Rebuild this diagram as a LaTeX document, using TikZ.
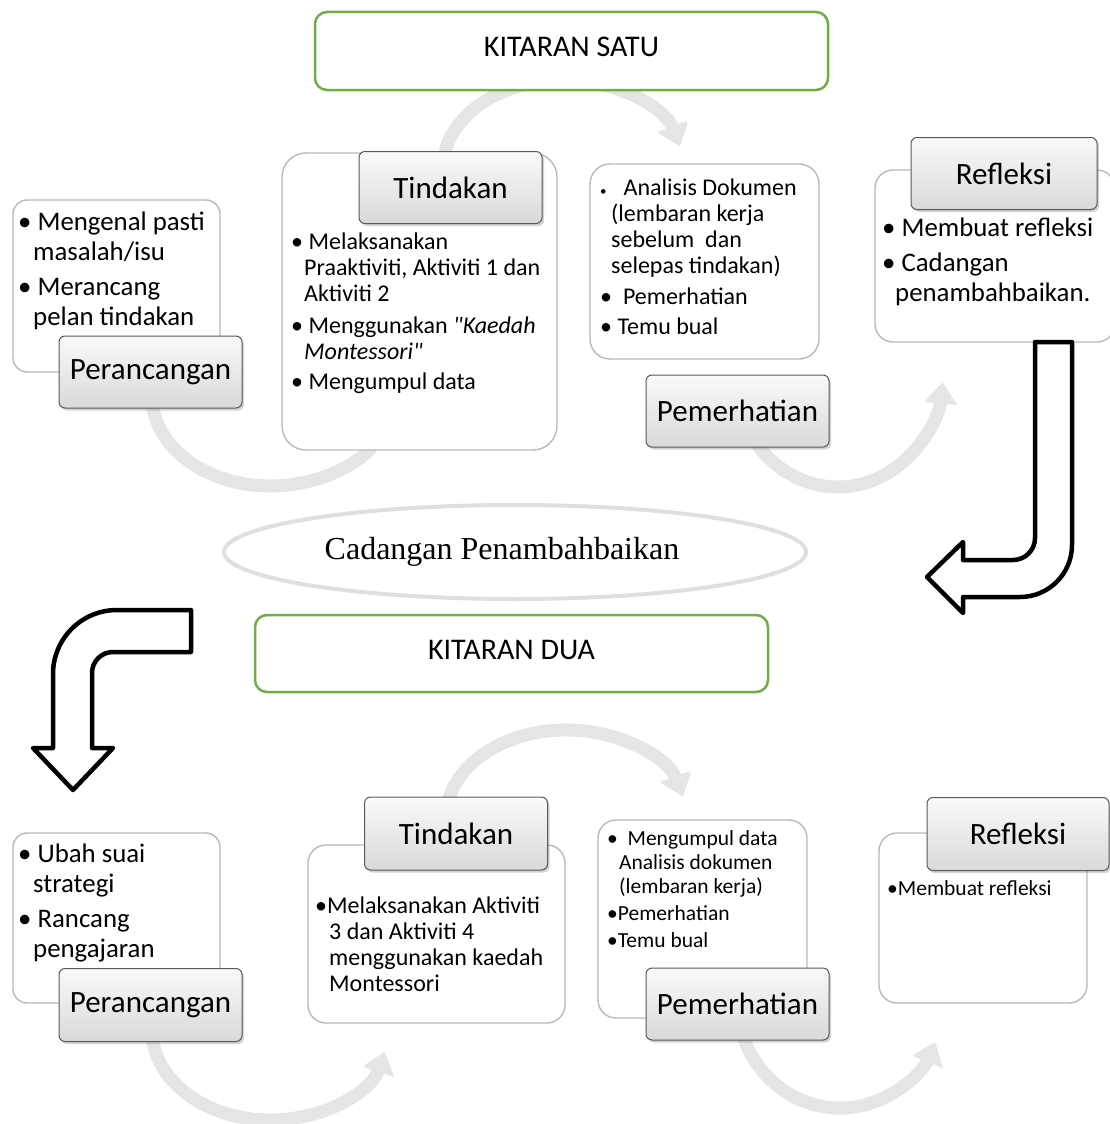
\documentclass[tikz,border=0pt]{standalone}
\usepackage{fontspec}
\setmainfont{Carlito}
\newfontfamily\serifface{Liberation Serif}
\usepackage{tikz}
\usetikzlibrary{
  arrows.meta,
  shapes.geometric,
  shadows
}
\definecolor{kitgreen}{RGB}{112,173,71}
\newcommand{\bul}{\textbullet\ }
\newcommand{\indt}[1][13pt]{\hspace*{#1}}

\begin{document}
\begin{tikzpicture}[
  x=1pt, y=-1pt,
  txtbox/.style={draw=gray!55, line width=1.4pt, fill=white, rounded corners=14pt},
  stage/.style={draw=gray!70!black, line width=1pt, rounded corners=6pt,
    top color=gray!4, bottom color=gray!30, minimum width=183pt, minimum height=72pt,
    drop shadow={opacity=0.35, shadow xshift=2pt, shadow yshift=-2.5pt},
    font=\fontsize{31}{36}\selectfont},
  cycbox/.style={draw=kitgreen, line width=2.5pt, rounded corners=12pt, fill=white,
    minimum width=513pt, minimum height=78pt, font=\fontsize{30}{34}\selectfont},
  txt/.style={anchor=north west, inner sep=0pt, align=left},
  txtL/.style={txt, font=\fontsize{26.8}{30}\selectfont},
  txtM/.style={txt, font=\fontsize{24}{26}\selectfont},
  txtS/.style={txt, font=\fontsize{21.5}{24}\selectfont},
  flow/.style={line width=13pt, draw=gray!20, -{Triangle[width=30pt,length=20pt]},
    preaction={draw=gray!40, opacity=0.5, transform canvas={shift={(1pt,-1.5pt)}}}},
  blockarrow/.style={draw=black, line width=4.5pt, fill=white, line join=round},
  oval/.style={ellipse, draw=gray!25, line width=4pt, fill=white,
    minimum width=582pt, minimum height=94pt,
    font=\serifface\fontsize{32}{36}\selectfont}
]
\useasboundingbox (0,0) rectangle (1109,1124);

% Cycle arrows (behind everything)
\coordinate (f1top) at (443.5,160.3);
\coordinate (f1left) at (152,396);
\coordinate (f1right) at (747,428.5);
\coordinate (f2top) at (446.5,810.3);
\coordinate (f2left) at (152,1030);
\coordinate (f2right) at (740.6,1028);

\draw[flow] (f1top) arc[start angle=185, end angle=345, x radius=120, y radius=88];
\draw[flow] (f1left) arc[start angle=180, end angle=14, x radius=118, y radius=90];
\draw[flow] (f1right) arc[start angle=150, end angle=6, x radius=105, y radius=117];
\draw[flow] (f2top) arc[start angle=185, end angle=345, x radius=120, y radius=88];
\draw[flow] (f2left) arc[start angle=180, end angle=14, x radius=118, y radius=90];
\draw[flow] (f2right) arc[start angle=165, end angle=23, x radius=103, y radius=108];

% Cycle one: text boxes
\node[txtbox, minimum width=207pt, minimum height=172pt] (planbox1) at (116.5,286) {};
\node[txtbox, rounded corners=24pt, minimum width=275pt, minimum height=297pt] (actbox1) at (419.5,301.5) {};
\node[txtbox, rounded corners=20pt, minimum width=229pt, minimum height=195pt] (obsbox1) at (704.5,261.5) {};
\node[txtbox, rounded corners=18pt, minimum width=240pt, minimum height=172pt] (reflbox1) at (995,256) {};

\node[txtL] (plantxt1) at (18,212) {\bul Mengenal pasti\\ \indt[15pt]masalah/isu\\[5pt]
  \bul Merancang\\ \indt[15pt]pelan tindakan};
\node[txtM] (acttxt1) at (291,233) {\bul Melaksanakan\\ \indt Praaktiviti, Aktiviti 1 dan\\
  \indt Aktiviti 2\\[6pt] \bul Menggunakan \textit{\textquotedbl Kaedah}\\
  \indt\textit{Montessori\textquotedbl}\\[4pt] \bul Mengumpul data};
\node[txtM] (obstxt1) at (600,178.5) {{\fontsize{13}{13}\selectfont\textbullet}\hspace{17pt}Analisis Dokumen\\
  \indt[11pt](lembaran kerja\\ \indt[11pt]sebelum\ \ dan\\ \indt[11pt]selepas tindakan)\\[5pt]
  \textbullet\ \ Pemerhatian\\[4pt] \bul Temu bual};
\node[txtL] (refltxt1) at (882,218) {\bul Membuat refleksi\\[5pt] \bul Cadangan\\
  \indt penambahbaikan.};

% Cycle one: stage labels
\node[stage] (plan1) at (150.5,372) {Perancangan};
\node[stage] (act1) at (450.5,187.5) {Tindakan};
\node[stage] (obs1) at (737.5,411) {Pemerhatian};
\node[stage, minimum width=186pt] (refl1) at (1004,173.5) {Refleksi};

% Cycle two: text boxes
\node[txtbox, minimum width=207pt, minimum height=170pt] (planbox2) at (116.5,918) {};
\node[txtbox, rounded corners=18pt, minimum width=257pt, minimum height=178pt] (actbox2) at (436.5,934) {};
\node[txtbox, rounded corners=18pt, minimum width=209pt, minimum height=198pt] (obsbox2) at (702.5,919) {};
\node[txtbox, rounded corners=18pt, minimum width=208pt, minimum height=170pt] (reflbox2) at (983,918) {};

\node[txtL] (plantxt2) at (18,844) {\bul Ubah suai\\ \indt[15pt]strategi\\[5pt]
  \bul Rancang\\ \indt[15pt]pengajaran};
\node[txtM] (acttxt2) at (315,896.5) {\textbullet Melaksanakan Aktiviti\\ \indt[14pt]3 dan Aktiviti 4\\
  \indt[14pt]menggunakan kaedah\\ \indt[14pt]Montessori};
\node[txtS] (obstxt2) at (607,830.5) {\textbullet\ \ Mengumpul data\\ \indt[12pt]Analisis dokumen\\
  \indt[12pt](lembaran kerja)\\[3pt] \textbullet Pemerhatian\\[3pt] \textbullet Temu bual};
\node[txtS] (refltxt2) at (887,880) {\textbullet Membuat refleksi};

% Cycle two: stage labels
\node[stage, minimum height=73pt] (plan2) at (150.5,1005) {Perancangan};
\node[stage, minimum height=73pt] (act2) at (456,833.5) {Tindakan};
\node[stage] (obs2) at (737.5,1004) {Pemerhatian};
\node[stage, minimum width=182pt, minimum height=73pt] (refl2) at (1018,834) {Refleksi};

% Headings
\node[cycbox] (kit1) at (571.5,51) {\raisebox{9pt}{KITARAN SATU}};
\node[cycbox, minimum height=77pt] (kit2) at (511.5,653.5) {\raisebox{8pt}{KITARAN DUA}};
\node[oval] (cad) at (515,552) {\hspace*{-26pt}Cadangan Penambahbaikan};

% Bent block arrows
\draw[blockarrow] (1035,342) -- (1072,342) -- (1072,545) arc[start angle=0, end angle=90, radius=52]
  -- (963,597) -- (963,613) -- (927,577) -- (963,542) -- (963,560) -- (1013,560)
  arc[start angle=90, end angle=0, radius=22] -- cycle;
\draw[blockarrow] (191,610) -- (117,610) arc[start angle=270, end angle=180, radius=64]
  -- (53,748) -- (33,748) -- (73,790) -- (113,748) -- (92,748) -- (92,673)
  arc[start angle=180, end angle=270, radius=21] -- (191,652) -- cycle;

\end{tikzpicture}
\end{document}
